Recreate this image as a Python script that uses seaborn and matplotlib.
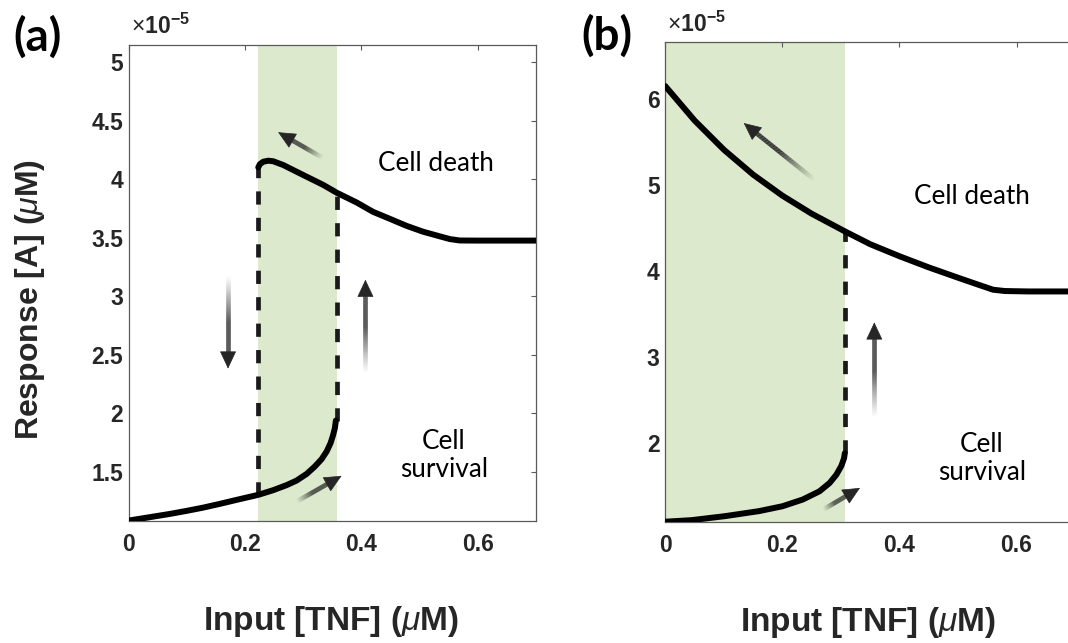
import numpy as np
import pandas as pd
import matplotlib
matplotlib.use("Agg")
import matplotlib.pyplot as plt
import seaborn as sns
from matplotlib.collections import LineCollection
from matplotlib.colors import to_rgb

# ---------------- data (response in units of 1e-5 uM) ----------------
# panel (a): bistable response
a_low_x = [0.0, 0.0426, 0.0712, 0.0999, 0.1285, 0.157, 0.1857, 0.2229, 0.2486, 0.2716,
           0.2887, 0.306, 0.320, 0.3317, 0.3403, 0.3471, 0.3516, 0.3545, 0.3562]
a_low_y = [1.081, 1.115, 1.138, 1.164, 1.192, 1.224, 1.258, 1.301, 1.341, 1.384,
           1.423, 1.48, 1.543, 1.606, 1.671, 1.743, 1.814, 1.871, 1.936]
a_high_x = [0.2229, 0.2258, 0.2315, 0.240, 0.2486, 0.2658, 0.283, 0.306, 0.3345, 0.3574,
            0.3918, 0.420, 0.449, 0.4776, 0.506, 0.535, 0.552, 0.569, 0.600, 0.650, 0.700]
a_high_y = [4.10, 4.128, 4.148, 4.157, 4.152, 4.12, 4.077, 4.02, 3.95, 3.884,
            3.80, 3.72, 3.66, 3.60, 3.55, 3.51, 3.487, 3.475, 3.474, 3.474, 3.474]
a_switch_down = 0.2229
a_switch_up = 0.3574

# panel (b): irreversible switch
b_low_x = [0.0, 0.0449, 0.1024, 0.160, 0.2002, 0.2347, 0.2634, 0.2807, 0.2922, 0.3008,
           0.3054, 0.3066]
b_low_y = [1.08, 1.098, 1.145, 1.203, 1.26, 1.338, 1.434, 1.531, 1.627, 1.731,
           1.82, 1.877]
b_high_x = [0.0, 0.05, 0.10, 0.15, 0.20, 0.25, 0.3066, 0.35, 0.40, 0.45, 0.50, 0.534,
            0.56, 0.58, 0.62, 0.70]
b_high_y = [6.15, 5.75, 5.41, 5.12, 4.875, 4.665, 4.46, 4.31, 4.17, 4.04, 3.92, 3.84,
            3.78, 3.765, 3.76, 3.76]
b_switch_up = 0.3066

x_ticks = [0, 0.2, 0.4, 0.6]
x_tick_labels = ["0", "0.2", "0.4", "0.6"]
a_y_ticks = [1.5, 2, 2.5, 3, 3.5, 4, 4.5, 5]
a_y_tick_labels = ["1.5", "2", "2.5", "3", "3.5", "4", "4.5", "5"]
b_y_ticks = [2, 3, 4, 5, 6]
b_y_tick_labels = ["2", "3", "4", "5", "6"]

panel_tags = ["(a)", "(b)"]
region_labels = ["Cell death", "Cell\nsurvival"]
x_title = r"Input [TNF] ($\mu$M)"
y_title = r"Response [A] ($\mu$M)"

# ---------------- style ----------------
sns.set_theme(style="white")
plt.rcParams["font.family"] = ["Liberation Sans", "DejaVu Sans"]
plt.rcParams["mathtext.fontset"] = "custom"
plt.rcParams["mathtext.rm"] = "Liberation Sans"
plt.rcParams["mathtext.it"] = "Liberation Sans:italic"
plt.rcParams["mathtext.bf"] = "Liberation Sans:bold"

INK = "#262626"
CURVE = "#000000"
BAND = "#dce9cc"
SPINE = "#5a5a5a"
TICK_FS = 16.5

fig = plt.figure(figsize=(10.68, 6.43), dpi=100)
W, H = 1068.0, 643.0


def add_axes_px(left, top, right, bottom):
    return fig.add_axes([left / W, 1 - bottom / H, (right - left) / W, (bottom - top) / H])


axA = add_axes_px(128.5, 44.5, 536.0, 520.7)
axB = add_axes_px(665.3, 42.3, 1075.1, 521.7)


def style_axes(ax, ylim, yticks, ylabels):
    ax.set_xlim(0, 0.7)
    ax.set_ylim(*ylim)
    ax.set_xticks(x_ticks)
    ax.set_xticklabels(x_tick_labels)
    ax.set_yticks(yticks)
    ax.set_yticklabels(ylabels)
    for s in ax.spines.values():
        s.set_visible(True)
        s.set_color(SPINE)
        s.set_linewidth(0.9)
    ax.tick_params(axis="both", direction="in", length=3.5, width=0.8, color=SPINE,
                   top=True, right=True, labelcolor=INK, labelsize=TICK_FS)
    ax.tick_params(axis="x", pad=9)
    ax.tick_params(axis="y", pad=4)
    for t in ax.get_xticklabels() + ax.get_yticklabels():
        t.set_fontweight("bold")
    ax.set_facecolor("white")


style_axes(axA, (1.08, 5.15), a_y_ticks, a_y_tick_labels)
style_axes(axB, (1.08, 6.66), b_y_ticks, b_y_tick_labels)


def branch(ax, xs, ys):
    df = pd.DataFrame({"x": xs, "y": ys})
    sns.lineplot(data=df, x="x", y="y", ax=ax, color=CURVE, lw=4.3, sort=False,
                 estimator=None, solid_capstyle="round", solid_joinstyle="round", zorder=4)


def jump(ax, x, y0, y1):
    ax.plot([x, x], [y0, y1], color="#1a1a1a", lw=3.4, ls=(0, (2.8, 2.8)),
            dash_capstyle="butt", zorder=3)


def fade_arrow(ax, tail, tip, bg="white", lw=3.3, head_len=11.5, head_half=5.4, fade=0.6):
    """Arrow whose shaft fades from the background colour into solid ink."""
    T = ax.transData
    p0 = T.transform(tail)
    p1 = T.transform(tip)
    d = p1 - p0
    u = d / np.hypot(*d)
    base_px = p1 - u * head_len * fig.dpi / 72.0
    n = 80
    pts = p0 + np.outer(np.linspace(0, 1, n + 1), base_px - p0)
    pdat = T.inverted().transform(pts)
    segs = np.stack([pdat[:-1], pdat[1:]], axis=1)
    c_ink = np.array(to_rgb(INK))
    c_bg = np.array(to_rgb(bg))
    w = np.clip(np.linspace(0, 1, n) / fade, 0, 1) ** 1.1
    cols = [tuple(c_bg + (c_ink - c_bg) * k) for k in w]
    lc = LineCollection(segs, colors=cols, linewidths=lw, capstyle="butt", zorder=5)
    ax.add_collection(lc)
    base = T.inverted().transform(base_px - u * 1.0)
    ax.annotate("", xy=tip, xytext=base,
                arrowprops=dict(arrowstyle=f"-|>,head_length={head_len},head_width={head_half}",
                                color=INK, lw=0.5, shrinkA=0, shrinkB=0, mutation_scale=1),
                zorder=6)


# ----- panel (a) -----
axA.axvspan(a_switch_down, a_switch_up, color=BAND, lw=0, zorder=0)
jump(axA, a_switch_down, a_low_y[7], a_high_y[0])
jump(axA, a_switch_up, a_low_y[-1], a_high_y[9])
branch(axA, a_low_x, a_low_y)
branch(axA, a_high_x, a_high_y)
fade_arrow(axA, (0.334, 4.18), (0.257, 4.40), bg=BAND)
fade_arrow(axA, (0.171, 3.18), (0.171, 2.38))
fade_arrow(axA, (0.407, 2.345), (0.407, 3.14))
fade_arrow(axA, (0.289, 1.244), (0.366, 1.463), bg=BAND, fade=0.5)

# ----- panel (b) -----
axB.axvspan(0, b_switch_up, color=BAND, lw=0, zorder=0)
jump(axB, b_switch_up, b_low_y[-1], b_high_y[6])
branch(axB, b_low_x, b_low_y)
branch(axB, b_high_x, b_high_y)
fade_arrow(axB, (0.255, 5.058), (0.134, 5.72), bg=BAND)
fade_arrow(axB, (0.357, 2.30), (0.357, 3.40))
fade_arrow(axB, (0.270, 1.222), (0.3326, 1.473), bg=BAND, fade=0.5)

# region annotations
lab_font = dict(family=["Lato", "DejaVu Sans"], fontsize=18.8, color="black",
                ha="center", va="center", zorder=7)
axA.text(0.5276, 4.133, region_labels[0], **lab_font)
axA.text(0.542, 1.634, region_labels[1], linespacing=1.15, **lab_font)
axB.text(0.5246, 4.87, region_labels[0], **lab_font)
axB.text(0.541, 1.82, region_labels[1], linespacing=1.15, **lab_font)

# axis titles
for ax, xc, yc in [(axA, 0.497, -0.212), (axB, 0.4955, -0.211)]:
    ax.set_xlabel(x_title, fontsize=24, fontweight="bold", color=INK)
    ax.xaxis.label.set_va("center")
    ax.xaxis.set_label_coords(xc, yc)
axA.set_ylabel(y_title, fontsize=23, fontweight="bold", color=INK)
axA.yaxis.label.set_va("center")
axA.yaxis.set_label_coords(-0.2417, 0.464)
axB.set_ylabel("")

# exponent multiplier above each axis
for ax in (axA, axB):
    ax.text(0.005, 1.012, r"$\times$10$^{\mathbf{-5}}$", transform=ax.transAxes,
            fontsize=TICK_FS, fontweight="bold", color=INK, ha="left", va="bottom")

# panel tags
tag_font = dict(fontsize=33, fontweight="bold", family=["Lato", "DejaVu Sans"],
                ha="center", va="center", color="black")
fig.text(37.5 / W, 1 - 37.5 / H, panel_tags[0], **tag_font)
fig.text(606.5 / W, 1 - 35.8 / H, panel_tags[1], **tag_font)

fig.savefig("out.png", dpi=100, facecolor="white")
